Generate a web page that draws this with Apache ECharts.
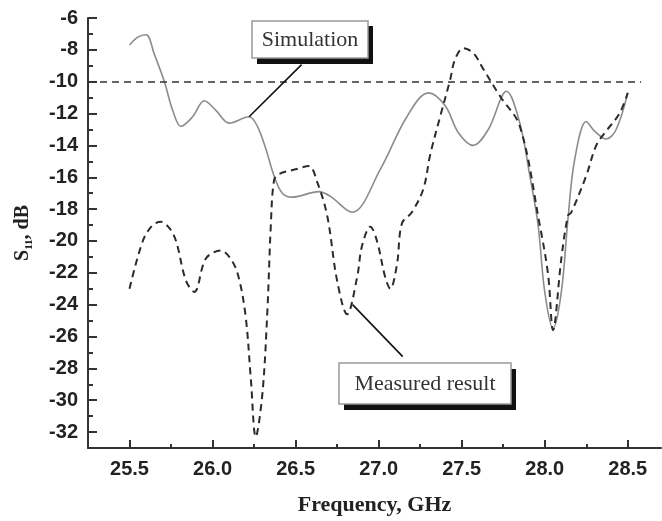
<!DOCTYPE html>
<html>
<head>
<meta charset="utf-8">
<style>
  html, body { margin: 0; padding: 0; background: #fff; }
  #chart { width: 662px; height: 521px; }
</style>
<script src="https://cdn.jsdelivr.net/npm/echarts@6/dist/echarts.min.js"></script>
</head>
<body>
<div id="chart"></div>
<script>
// Frequency (GHz) and S11 (dB) of the simulated response
const simFreq = [25.50, 25.55, 25.60, 25.65, 25.71, 25.76, 25.81, 25.88, 25.95, 26.02, 26.10, 26.22,
  26.27, 26.32, 26.37, 26.42, 26.48, 26.64, 26.71, 26.84, 27.01, 27.17, 27.30, 27.40, 27.48, 27.57,
  27.66, 27.77, 27.85, 27.91, 27.96, 28.00, 28.05, 28.10, 28.14, 28.18, 28.25, 28.30, 28.37, 28.43, 28.50];
const simS11 = [-7.7, -7.2, -7.05, -8.3, -10.0, -11.8, -12.8, -12.2, -11.2, -11.8, -12.6, -12.2,
  -12.8, -14.2, -15.9, -17.0, -17.25, -16.9, -17.2, -18.2, -15.5, -12.2, -10.7, -11.5, -13.2, -14.0,
  -13.0, -10.6, -12.6, -15.9, -19.0, -23.2, -25.5, -23.2, -18.6, -14.9, -12.5, -13.1, -13.6, -13.0, -10.7];

// Frequency (GHz) and S11 (dB) of the measured response
const measFreq = [25.50, 25.58, 25.64, 25.69, 25.74, 25.78, 25.84, 25.89, 25.96, 26.05, 26.12, 26.16,
  26.20, 26.23, 26.26, 26.30, 26.33, 26.35, 26.37, 26.40, 26.50, 26.58, 26.63, 26.69, 26.75, 26.81,
  26.87, 26.90, 26.95, 26.99, 27.04, 27.07, 27.11, 27.14, 27.20, 27.27, 27.31, 27.37, 27.43, 27.46,
  27.51, 27.57, 27.63, 27.73, 27.85, 27.97, 28.02, 28.05, 28.10, 28.14, 28.16, 28.25, 28.31, 28.37,
  28.45, 28.50];
const measS11 = [-23.0, -20.0, -19.0, -18.8, -19.2, -20.0, -22.5, -23.2, -21.1, -20.6, -21.3, -22.4,
  -24.8, -28.6, -32.3, -29.6, -24.4, -19.2, -16.2, -15.8, -15.5, -15.3, -16.3, -18.4, -22.5, -24.6,
  -22.3, -20.3, -19.1, -20.0, -22.3, -23.0, -21.5, -18.9, -18.2, -16.7, -14.6, -12.2, -9.9, -8.6,
  -7.9, -8.2, -9.2, -10.9, -12.8, -19.0, -22.1, -25.6, -21.1, -18.4, -18.2, -15.9, -14.0, -13.1,
  -12.0, -10.7];

// Axis ticks
const xMajorTicks = [25.5, 26.0, 26.5, 27.0, 27.5, 28.0, 28.5];
const xMinorTicks = [25.75, 26.25, 26.75, 27.25, 27.75, 28.25];
const yMajorTicks = [-6, -8, -10, -12, -14, -16, -18, -20, -22, -24, -26, -28, -30, -32];
const yMinorTicks = [-7, -9, -11, -13, -15, -17, -19, -21, -23, -25, -27, -29, -31];

// -10 dB reference level and annotation leader lines (data units)
const refLevel = -10;
const refSpan = [25.25, 28.58];
const simLeader = [[26.22, -12.2], [26.536, -8.93]];
const measLeader = [[26.843, -24.0], [27.145, -27.26]];

const toPairs = (xs, ys) => xs.map((x, i) => [x, ys[i]]);

const sansBold = { fontFamily: 'Liberation Sans, Arial, sans-serif', fontWeight: 'bold', fontSize: 20, color: '#222' };
const serif = 'Liberation Serif, Times New Roman, serif';
const axisDark = { color: '#333', width: 2 };

const chart = echarts.init(document.getElementById('chart'), null, { renderer: 'canvas' });

function xAxisDef(ticks, len, showLine, showLabel, name) {
  return {
    type: 'value', min: 25.25, max: 28.7,
    position: 'bottom',
    splitLine: { show: false },
    axisLine: { show: showLine, onZero: false, lineStyle: axisDark },
    axisTick: { show: true, inside: true, length: len, lineStyle: axisDark, customValues: ticks },
    axisLabel: showLabel ? Object.assign({ customValues: ticks, margin: 11, formatter: v => v.toFixed(1) }, sansBold) : { show: false },
    name: name || '',
    nameLocation: 'middle',
    nameGap: 46,
    nameTextStyle: { fontFamily: serif, fontWeight: 'bold', fontSize: 22, color: '#222' }
  };
}

function yAxisDef(ticks, len, showLine, showLabel, withName) {
  return {
    type: 'value', min: -33, max: -6,
    position: 'left',
    splitLine: { show: false },
    axisLine: { show: showLine, onZero: false, lineStyle: axisDark },
    axisTick: { show: true, inside: true, length: len, lineStyle: axisDark, customValues: ticks },
    axisLabel: showLabel ? Object.assign({ customValues: ticks, margin: 10 }, sansBold) : { show: false },
    name: withName ? '{s|S}{sub|11}{s|, dB}' : '',
    nameLocation: 'middle',
    nameGap: 53,
    nameRotate: 90,
    nameTextStyle: {
      rich: {
        s: { fontFamily: serif, fontWeight: 'bold', fontSize: 20, color: '#222', lineHeight: 24 },
        sub: { fontFamily: serif, fontWeight: 'bold', fontSize: 11, color: '#222', lineHeight: 24, verticalAlign: 'bottom', padding: [6, 0, 0, 0] }
      }
    }
  };
}

chart.setOption({
  animation: false,
  backgroundColor: '#fff',
  grid: { left: 88, right: 1, top: 18, bottom: 70 },
  xAxis: [
    xAxisDef(xMajorTicks, 8, true, true, 'Frequency, GHz'),
    xAxisDef(xMinorTicks, 4, false, false)
  ],
  yAxis: [
    yAxisDef(yMajorTicks, 9, true, true, true),
    yAxisDef(yMinorTicks, 5, false, false, false)
  ],
  series: [
    {
      name: 'Simulation',
      type: 'line',
      data: toPairs(simFreq, simS11),
      smooth: 0.35,
      showSymbol: false,
      lineStyle: { color: '#8c8c8c', width: 1.6 },
      z: 3,
      markLine: {
        silent: true,
        symbol: ['none', 'none'],
        label: { show: false },
        lineStyle: { color: '#333', width: 1.5, type: [7, 5] },
        data: [[{ coord: [refSpan[0], refLevel] }, { coord: [refSpan[1], refLevel] }]]
      }
    },
    {
      name: 'Measured result',
      type: 'line',
      data: toPairs(measFreq, measS11),
      smooth: 0.35,
      showSymbol: false,
      lineStyle: { color: '#2b2b2b', width: 2, type: [7, 5] },
      z: 4,
      markLine: {
        silent: true,
        symbol: ['none', 'arrow'],
        symbolSize: [0, 7],
        label: { show: false },
        lineStyle: { color: '#111', width: 1.6, type: 'solid' },
        data: [
          [{ coord: simLeader[0] }, { coord: simLeader[1] }],
          [{ coord: measLeader[0] }, { coord: measLeader[1] }]
        ]
      }
    }
  ],
  graphic: [
    // Simulation label box with drop shadow
    { type: 'rect', shape: { x: 257, y: 26, width: 116, height: 38 }, style: { fill: '#111' }, z: 10 },
    { type: 'rect', shape: { x: 252, y: 21, width: 116, height: 37 }, style: { fill: '#fff', stroke: '#999', lineWidth: 1.5 }, z: 11 },
    { type: 'text', x: 310, y: 40, style: { text: 'Simulation', font: '22px ' + serif, fill: '#333', align: 'center', verticalAlign: 'middle' }, z: 12 },
    // Measured result label box with drop shadow
    { type: 'rect', shape: { x: 344, y: 369, width: 172, height: 41 }, style: { fill: '#111' }, z: 10 },
    { type: 'rect', shape: { x: 339, y: 363, width: 172, height: 41 }, style: { fill: '#fff', stroke: '#999', lineWidth: 1.5 }, z: 11 },
    { type: 'text', x: 425, y: 384, style: { text: 'Measured result', font: '22px ' + serif, fill: '#333', align: 'center', verticalAlign: 'middle' }, z: 12 }
  ]
});
</script>
</body>
</html>
